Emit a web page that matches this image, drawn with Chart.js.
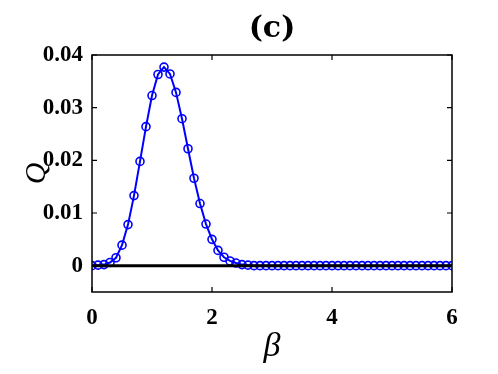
<!DOCTYPE html>
<html>
<head>
<meta charset="utf-8">
<script src="https://cdn.jsdelivr.net/npm/chart.js@4"></script>
<style>
  html, body { margin: 0; padding: 0; background: #fff; }
  canvas { display: block; }
</style>
</head>
<body>
<canvas id="qChart" width="498" height="374"></canvas>
<script>
// beta grid (x) and Q values
const betaValues = [
    0.0, 0.1, 0.2, 0.3, 0.4, 0.5, 0.6, 0.7, 0.8, 0.9,
    1.0, 1.1, 1.2, 1.3, 1.4, 1.5, 1.6, 1.7, 1.8, 1.9,
    2.0, 2.1, 2.2, 2.3, 2.4, 2.5, 2.6, 2.7, 2.8, 2.9,
    3.0, 3.1, 3.2, 3.3, 3.4, 3.5, 3.6, 3.7, 3.8, 3.9,
    4.0, 4.1, 4.2, 4.3, 4.4, 4.5, 4.6, 4.7, 4.8, 4.9,
    5.0, 5.1, 5.2, 5.3, 5.4, 5.5, 5.6, 5.7, 5.8, 5.9,
    6.0
];
const qValues = [
    0, 0.0001, 0.0002, 0.0006, 0.0015, 0.0039, 0.0078, 0.0133, 0.0198, 0.0264,
    0.0323, 0.0363, 0.0377, 0.0364, 0.0329, 0.0279, 0.0222, 0.0166, 0.0118, 0.0079,
    0.0050, 0.0029, 0.0016, 0.0009, 0.0005, 0.0002, 0.0001, 0, 0, 0,
    0, 0, 0, 0, 0, 0, 0, 0, 0, 0,
    0, 0, 0, 0, 0, 0, 0, 0, 0, 0,
    0, 0, 0, 0, 0, 0, 0, 0, 0, 0,
    0
];
// black reference line at Q = 0
const zeroLineX = [0, 6];
const zeroLineY = [0, 0];

const xTicks = [0, 2, 4, 6];
const yTicks = [0, 0.01, 0.02, 0.03, 0.04];

const tickFont = { family: 'Liberation Serif', size: 23, weight: 'bold' };

// frame box with inward ticks on all four sides
const framePlugin = {
    id: 'frame',
    afterDraw(chart) {
        const ctx = chart.ctx;
        const area = chart.chartArea;
        const xs = chart.scales.x;
        const ys = chart.scales.y;
        const len = 5;
        ctx.save();
        ctx.strokeStyle = '#000';
        ctx.lineWidth = 1.5;
        ctx.strokeRect(area.left, area.top, area.right - area.left, area.bottom - area.top);
        ctx.lineWidth = 1.2;
        ctx.beginPath();
        xTicks.forEach(v => {
            const px = xs.getPixelForValue(v);
            ctx.moveTo(px, area.bottom);
            ctx.lineTo(px, area.bottom - len);
            ctx.moveTo(px, area.top);
            ctx.lineTo(px, area.top + len);
        });
        yTicks.forEach(v => {
            const py = ys.getPixelForValue(v);
            ctx.moveTo(area.left, py);
            ctx.lineTo(area.left + len, py);
            ctx.moveTo(area.right, py);
            ctx.lineTo(area.right - len, py);
        });
        ctx.stroke();
        ctx.restore();
    }
};

new Chart(document.getElementById('qChart'), {
    type: 'line',
    data: {
        datasets: [{
            label: 'zero',
            data: zeroLineX.map((x, i) => ({ x: x, y: zeroLineY[i] })),
            borderColor: '#000',
            borderWidth: 3,
            pointRadius: 0,
            fill: false
        }, {
            label: 'Q',
            data: betaValues.map((b, i) => ({ x: b, y: qValues[i] })),
            borderColor: 'rgb(0, 0, 255)',
            borderWidth: 2,
            pointRadius: 4,
            pointBorderWidth: 1.6,
            pointBorderColor: 'rgb(0, 0, 255)',
            pointBackgroundColor: 'rgba(0, 0, 0, 0)',
            tension: 0,
            fill: false
        }]
    },
    options: {
        responsive: false,
        animation: false,
        devicePixelRatio: 1,
        layout: { padding: { left: 0, right: 46, top: 0, bottom: 0 } },
        plugins: {
            legend: { display: false },
            tooltip: { enabled: false },
            title: { display: false }
        },
        scales: {
            x: {
                type: 'linear',
                position: 'bottom',
                min: 0,
                max: 6,
                grid: { display: false, drawTicks: false },
                border: { display: false },
                afterBuildTicks: function(scale) {
                    scale.ticks = xTicks.map(v => ({ value: v }));
                },
                afterFit: function(scale) { scale.height = 82; },
                ticks: {
                    color: '#000',
                    font: tickFont,
                    padding: 12,
                    maxRotation: 0,
                    callback: function(value) { return String(value); }
                },
                title: {
                    display: true,
                    text: 'β',
                    color: '#000',
                    font: { family: 'Liberation Serif', size: 34, style: 'italic', lineHeight: 1 },
                    padding: { top: 0, bottom: 10 }
                }
            },
            x2: {
                type: 'linear',
                axis: 'x',
                position: 'top',
                min: 0,
                max: 6,
                grid: { display: false, drawTicks: false },
                border: { display: false },
                ticks: { display: false },
                afterFit: function(scale) { scale.height = 55; },
                title: {
                    display: true,
                    text: '(c)',
                    color: '#000',
                    font: { family: 'DejaVu Serif', size: 30, weight: 'bold', lineHeight: 1 },
                    padding: { top: 14, bottom: 0 }
                }
            },
            y: {
                type: 'linear',
                min: -0.005,
                max: 0.04,
                grid: { display: false, drawTicks: false },
                border: { display: false },
                afterBuildTicks: function(scale) {
                    scale.ticks = yTicks.map(v => ({ value: v }));
                },
                afterFit: function(scale) { scale.width = 92; },
                ticks: {
                    color: '#000',
                    font: tickFont,
                    padding: 9,
                    callback: function(value) {
                        return value === 0 ? '0' : value.toFixed(2);
                    }
                },
                title: {
                    display: true,
                    text: 'Q',
                    color: '#000',
                    font: { family: 'Liberation Serif', size: 30, style: 'italic', lineHeight: 1 },
                    padding: { top: 22, bottom: 0 }
                }
            }
        }
    },
    plugins: [framePlugin]
});
</script>
</body>
</html>
